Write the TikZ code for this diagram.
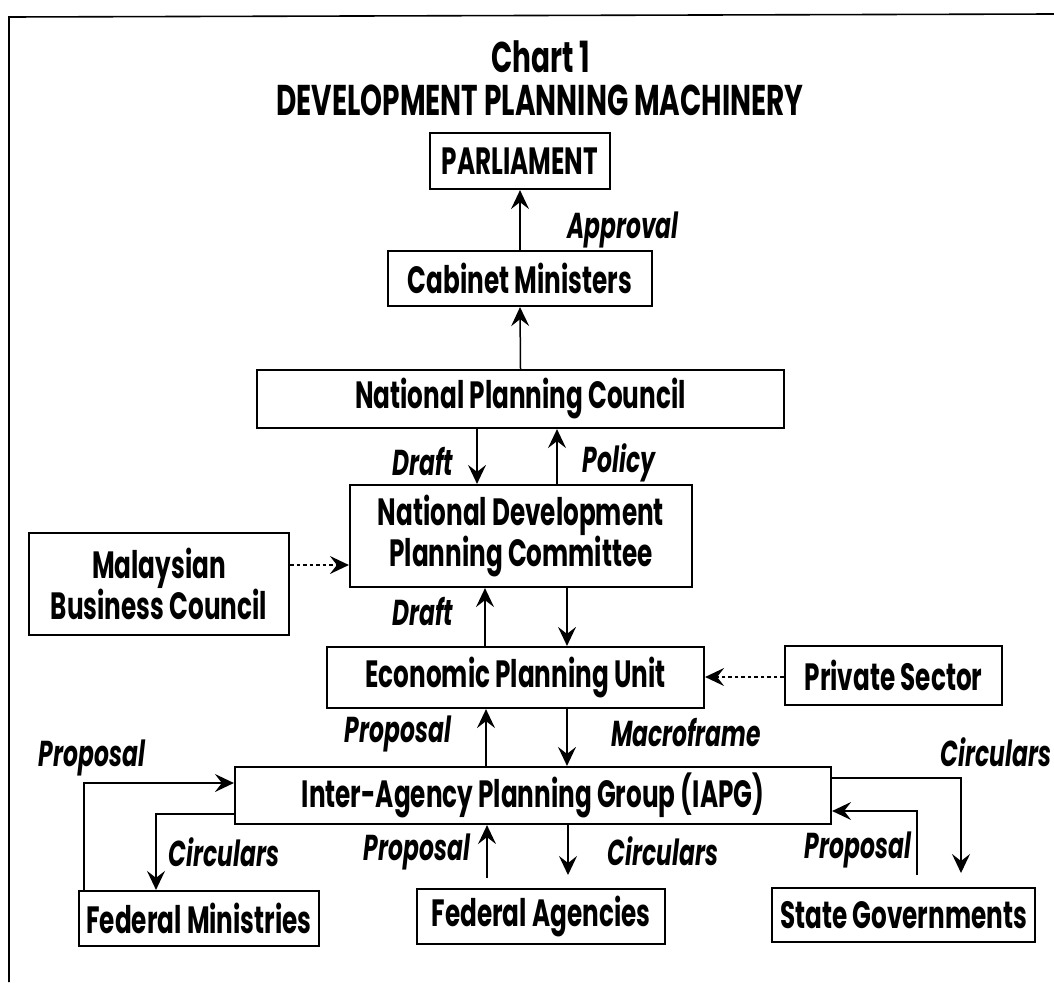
\documentclass[tikz,border=0pt]{standalone}
\usepackage{fontspec}
\setmainfont{Poppins}[FakeStretch=0.65]
\usetikzlibrary{arrows.meta}

\begin{document}
\begin{tikzpicture}[x=1pt, y=-1pt,
  box/.style={draw, line width=2.2pt, inner sep=0pt, align=center,
    font=\bfseries\fontsize{38}{40}\selectfont},
  lbl/.style={inner sep=0pt, font=\bfseries\itshape\fontsize{36}{40}\selectfont},
  flow/.style={-{Stealth[length=19pt, width=18pt, inset=7pt]}, line width=1.5pt},
  dflow/.style={flow, dash pattern=on 3.5pt off 3pt},
  frame/.style={line width=1.6pt}]
\useasboundingbox (0,0) rectangle (1054,982);

% outer frame (top and left edges)
\draw[frame] (1054,14) -- (9,17) -- (9,982);

% title
\node[inner sep=0pt, font=\bfseries\fontsize{43}{46}\selectfont] (t1) at (541,57) {Chart 1};
\node[inner sep=0pt, font=\bfseries\fontsize{43}{46}\selectfont] (t2) at (540,100) {DEVELOPMENT PLANNING MACHINERY};

% boxes
\node[box, minimum width=180pt, minimum height=56pt] (parl) at (520,161) {PARLIAMENT};
\node[box, minimum width=264pt, minimum height=55pt] (cab) at (520,278.5) {Cabinet Ministers};
\node[box, minimum width=527pt, minimum height=58pt] (npc) at (520.5,399) {National Planning Council};
\node[box, minimum width=342pt, minimum height=102pt] (ndpc) at (521,536) {National Development\\Planning Committee};
\node[box, minimum width=260pt, minimum height=102pt] (mbc) at (159,584) {Malaysian\\Business Council};
\node[box, minimum width=377pt, minimum height=61pt] (epu) at (515.5,677.5) {Economic Planning Unit};
\node[box, minimum width=217pt, minimum height=59pt] (ps) at (893.5,675.5) {Private Sector};
\node[box, minimum width=596pt, minimum height=57pt] (iapg) at (533,795.5) {Inter-Agency Planning Group (IAPG)};
\node[box, minimum width=240pt, minimum height=55pt] (fm) at (199,918.5) {Federal Ministries};
\node[box, minimum width=248pt, minimum height=55pt] (fa) at (541,916.5) {Federal Agencies};
\node[box, minimum width=263pt, minimum height=54pt] (sg) at (903.5,915) {State Governments};

% connector guide coordinates
\coordinate (xDraftA) at (477,0);
\coordinate (xPolicy) at (557,0);
\coordinate (xDraftB) at (485,0);
\coordinate (xDownB) at (567,0);
\coordinate (xPropE) at (486,0);
\coordinate (xMacro) at (567,0);
\coordinate (faProp) at (487,878);
\coordinate (faCirc) at (568,875);
\coordinate (xFmProp) at (84,0);
\coordinate (yFmProp) at (0,783);
\coordinate (xFmCirc) at (156,0);
\coordinate (yFmCirc) at (0,814);
\coordinate (yStCirc) at (0,778);
\coordinate (stCirc) at (961,873);
\coordinate (stProp) at (917,875);
\coordinate (yStProp) at (0,811);

% vertical flows
\draw[flow] (cab.north) -- (parl.south);
\draw[flow] (npc.north) -- (cab.south);
\draw[flow] (npc.south -| xDraftA) -- (ndpc.north -| xDraftA);
\draw[flow] (ndpc.north -| xPolicy) -- (npc.south -| xPolicy);
\draw[flow] (epu.north -| xDraftB) -- (ndpc.south -| xDraftB);
\draw[flow] (ndpc.south -| xDownB) -- (epu.north -| xDownB);
\draw[flow] (iapg.north -| xPropE) -- (epu.south -| xPropE);
\draw[flow] (epu.south -| xMacro) -- (iapg.north -| xMacro);
\draw[flow] (faProp) -- (iapg.south -| faProp);
\draw[flow] (iapg.south -| faCirc) -- (faCirc);

% side inputs
\draw[dflow] (mbc.east |- 0,565) -- (ndpc.west |- 0,565);
\draw[dflow] (ps.west |- 0,677) -- (epu.east |- 0,677);

% federal ministries loop
\draw[flow] (fm.north -| xFmProp) |- (iapg.west |- yFmProp);
\draw[flow] (iapg.west |- yFmCirc) -| (fm.north -| xFmCirc);

% state governments loop
\draw[flow] (iapg.east |- yStCirc) -| (stCirc);
\draw[flow] (stProp) |- (iapg.east |- yStProp);

% flow labels
\node[lbl] (lApproval) at (623,230) {Approval};
\node[lbl] (lDraftA) at (423,462) {Draft};
\node[lbl] (lPolicy) at (619,463) {Policy};
\node[lbl] (lDraftB) at (423,612) {Draft};
\node[lbl] (lPropE) at (398,734) {Proposal};
\node[lbl] (lMacro) at (686,733) {Macroframe};
\node[lbl] (lPropL) at (92,758) {Proposal};
\node[lbl] (lCircR) at (996,752) {Circulars};
\node[lbl] (lCircL) at (224,852) {Circulars};
\node[lbl] (lPropM) at (417,852) {Proposal};
\node[lbl] (lCircM) at (663,851) {Circulars};
\node[lbl] (lPropR) at (858,850) {Proposal};
\end{tikzpicture}
\end{document}
